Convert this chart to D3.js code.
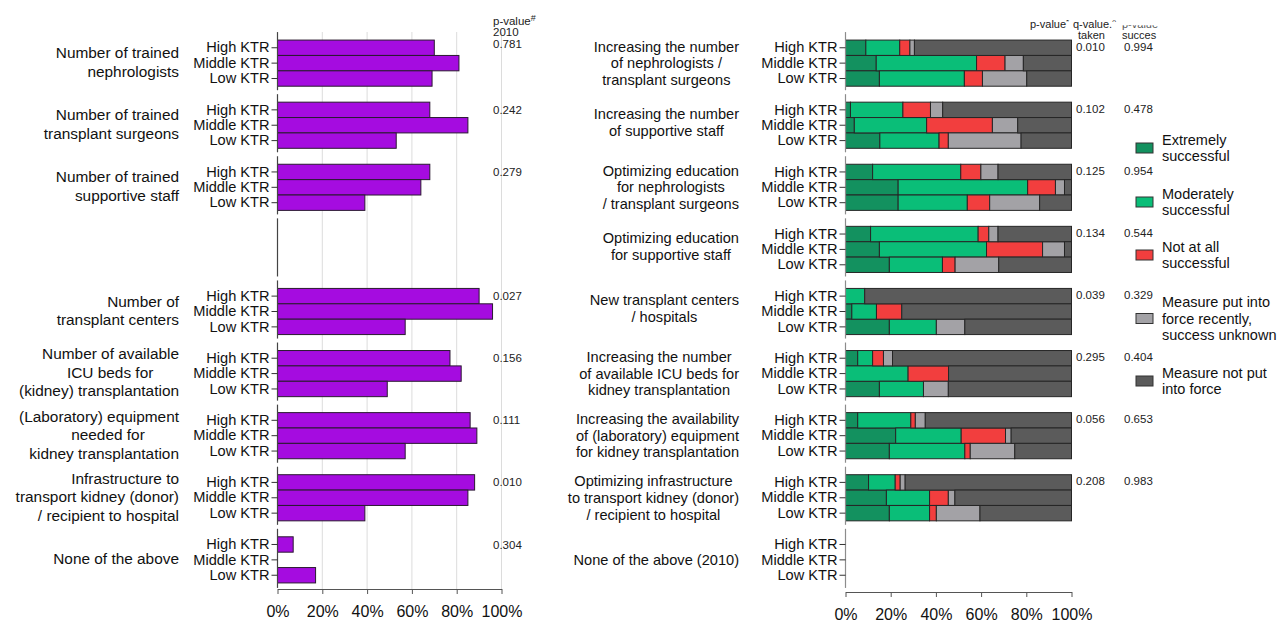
<!DOCTYPE html>
<html>
<head>
<meta charset="utf-8">
<script src="https://cdn.jsdelivr.net/npm/d3@7"></script>
<style>
  body { margin: 0; background: #fff; }
  svg { display: block; font-family: "Liberation Sans", Arial, sans-serif; }
</style>
</head>
<body>
<svg id="chart" width="1278" height="622"></svg>
<script>
// ---- data ----------------------------------------------------------
const ktrLevels = ["High KTR", "Middle KTR", "Low KTR"];
const xTicks = [0, 20, 40, 60, 80, 100];

// Left panel: resources considered lacking (% of respondents), one empty slot
const resourceLines = [
  ["Number of trained", "nephrologists"],
  ["Number of trained", "transplant surgeons"],
  ["Number of trained", "supportive staff"],
  [],
  ["Number of", "transplant centers"],
  ["Number of available", "ICU beds for\u00A0\u00A0\u00A0\u00A0\u00A0\u00A0", "(kidney) transplantation"],
  ["(Laboratory) equipment", "needed for\u00A0\u00A0\u00A0\u00A0\u00A0\u00A0\u00A0\u00A0", "kidney transplantation"],
  ["Infrastructure to", "transport kidney (donor)", "/ recipient to hospital"],
  ["None of the above"]
];
const resourcePct = [
  [70, 81, 69],
  [68, 85, 53],
  [68, 64, 39],
  null,
  [90, 96, 57],
  [77, 82, 49],
  [86, 89, 57],
  [88, 85, 39],
  [7, 0, 17]
];
const resourceP = ["0.781", "0.242", "0.279", "", "0.027", "0.156", "0.111", "0.010", "0.304"];

// Right panel: measures taken and their success (% per KTR level)
const measureLines = [
  ["Increasing the number", "of nephrologists /", "transplant surgeons"],
  ["Increasing the number", "of supportive staff"],
  ["Optimizing education", "for nephrologists", "/ transplant surgeons"],
  ["Optimizing education", "for supportive staff"],
  ["New transplant centers", "/ hospitals"],
  ["Increasing the number", "of available ICU beds for", "kidney transplantation"],
  ["Increasing the availability", "of (laboratory) equipment", "for kidney transplantation"],
  ["Optimizing infrastructure", "to transport kidney (donor)", "/ recipient to hospital"],
  ["None of the above (2010)"]
];
const statusNames = [
  ["Extremely", "successful"],
  ["Moderately", "successful"],
  ["Not at all", "successful"],
  ["Measure put into", "force recently,", "success unknown"],
  ["Measure not put", "into force"]
];
const statusColors = ["#13915f", "#0abe78", "#f23e3e", "#a3a2a6", "#5b5b5b"];

const extremely = [[9, 13.6, 15], [2.2, 3.9, 15.2], [12, 23.3, 23.3], [11.1, 15, 19.4], [0, 2.8, 19.4], [5.4, 0, 15], [5.4, 22.2, 19.4], [10.2, 18.1, 19.4], [0, 0, 0]];
const moderately = [[15, 44.4, 37.6], [23.2, 32, 26.2], [39, 57.3, 30.6], [47.6, 47.4, 23.5], [8.5, 10.9, 20.8], [6.6, 27.7, 19.5], [23.5, 29, 33.4], [11.8, 19.1, 17.8], [0, 0, 0]];
const notAtAll = [[4.5, 12.6, 8], [12.2, 29.1, 4.1], [8.9, 12.3, 9.9], [4.7, 24.8, 5.6], [0, 11.2, 0], [4.8, 17.9, 0], [2, 19.6, 2.4], [2.2, 8.3, 3], [0, 0, 0]];
const recently = [[2, 8.1, 19.6], [5.4, 11.2, 32.2], [7.6, 4, 22.1], [4.1, 9.7, 19.3], [0, 0, 12.6], [4, 0, 11], [4.4, 2.5, 19.7], [2.2, 2.9, 19.3], [0, 0, 0]];
const notInForce = [[69.5, 21.3, 19.8], [57, 23.8, 22.3], [32.5, 3.1, 14.1], [32.5, 3.1, 32.2], [91.5, 75.1, 47.2], [79.2, 54.4, 54.5], [64.7, 26.7, 25.1], [73.6, 51.6, 40.5], [0, 0, 0]];

const pTaken = ["0.010", "0.102", "0.125", "0.134", "0.039", "0.295", "0.056", "0.208", ""];
const pSuccess = ["0.994", "0.478", "0.954", "0.544", "0.329", "0.404", "0.653", "0.983", ""];

// ---- layout --------------------------------------------------------
const svg = d3.select("#chart");
const slotY = d3.scaleBand().domain(d3.range(9)).range([32, 591]).paddingInner(0.257).paddingOuter(0.13);
const rowY = d3.scaleBand().domain(ktrLevels).range([0, slotY.bandwidth()]);
const xL = d3.scaleLinear().domain([0, 100]).range([277.5, 501.5]);
const xR = d3.scaleLinear().domain([0, 100]).range([845.5, 1071.5]);

const tickFont = "14.6px";

function slotAxisSegments(g, x, color) {
  g.selectAll("line.seg").data(d3.range(9)).join("line")
    .attr("class", "seg")
    .attr("x1", x).attr("x2", x)
    .attr("y1", d => slotY(d) - 8)
    .attr("y2", d => slotY(d) + slotY.bandwidth() + (d === 8 ? 5 : 4))
    .attr("stroke", color).attr("stroke-width", 1.2);
}

function ktrAxis(parent, x, slots) {
  slots.forEach(s => {
    const ax = parent.append("g")
      .attr("transform", `translate(${x},${slotY(s)})`)
      .call(d3.axisLeft(rowY).tickSize(6).tickPadding(2));
    ax.select(".domain").remove();
    ax.selectAll(".tick line").attr("stroke", "#333");
    ax.selectAll(".tick text").attr("fill", "#111").style("font-size", tickFont)
      .style("font-family", "'Liberation Sans', Arial, sans-serif");
  });
}

function bottomAxis(parent, x, y) {
  const ax = parent.append("g")
    .attr("transform", `translate(0,${y})`)
    .call(d3.axisBottom(x).tickValues(xTicks).tickFormat(d => d + "%").tickSize(5).tickSizeOuter(0).tickPadding(12));
  ax.select(".domain").attr("stroke", "#555");
  ax.selectAll(".tick line").attr("stroke", "#555");
  ax.selectAll(".tick text").attr("fill", "#111").style("font-size", "16px")
    .style("font-family", "'Liberation Sans', Arial, sans-serif");
}

// ---- left panel ----------------------------------------------------
const left = svg.append("g");

left.selectAll("line.grid").data(xTicks.filter(d => d > 0)).join("line")
  .attr("class", "grid")
  .attr("x1", d => xL(d)).attr("x2", d => xL(d))
  .attr("y1", 32).attr("y2", 589)
  .attr("stroke", "#dcdcdc").attr("stroke-width", 1);

const leftRows = [];
resourcePct.forEach((vals, g) => {
  if (!vals) return;
  vals.forEach((v, i) => leftRows.push({ g, level: ktrLevels[i], v }));
});

left.selectAll("rect.bar").data(leftRows.filter(d => d.v > 0)).join("rect")
  .attr("class", "bar")
  .attr("x", xL(0))
  .attr("y", d => slotY(d.g) + rowY(d.level))
  .attr("width", d => xL(d.v) - xL(0))
  .attr("height", rowY.bandwidth())
  .attr("fill", "#a50ce0")
  .attr("stroke", "#2a1a30").attr("stroke-width", 1);

slotAxisSegments(left, xL(0), "#444");
ktrAxis(left, xL(0), d3.range(9).filter(s => resourcePct[s]));
bottomAxis(left, xL, 589);

// group labels, right aligned
resourceLines.forEach((lines, g) => {
  const cy = slotY(g) + slotY.bandwidth() / 2;
  const lh = 18.5;
  lines.forEach((t, k) => {
    left.append("text")
      .attr("x", 179)
      .attr("y", cy + (k - (lines.length - 1) / 2) * lh - 1)
      .attr("dy", "0.35em")
      .attr("text-anchor", "end")
      .style("font-size", "15.4px")
      .attr("fill", "#111")
      .text(t);
  });
});

// p-values (2010)
const pLeftX = 493;
resourceP.forEach((p, g) => {
  if (!p) return;
  const y = slotY(g) + rowY("High KTR") + rowY.bandwidth() / 2 - (g === 0 ? 4 : 0);
  left.append("text").attr("x", pLeftX).attr("y", y).attr("dy", "0.35em")
    .style("font-size", "11.5px").attr("fill", "#222").text(p);
  if (g === 0) {
    const h = left.append("text").attr("x", pLeftX).attr("y", y - 22.6).attr("dy", "0.35em")
      .style("font-size", "11.5px").attr("fill", "#222");
    h.append("tspan").text("p-value");
    h.append("tspan").attr("dy", "-0.5em").style("font-size", "9px").text("#");
    left.append("text").attr("x", pLeftX).attr("y", y - 11.3).attr("dy", "0.35em")
      .style("font-size", "11.5px").attr("fill", "#222").text("2010");
  }
});

// ---- right panel ---------------------------------------------------
const right = svg.append("g");
const keys = ["ext", "mod", "not", "rec", "nf"];
const rightRows = [];
measureLines.forEach((_, g) => {
  ktrLevels.forEach((level, i) => {
    rightRows.push({
      g, level,
      ext: extremely[g][i], mod: moderately[g][i], not: notAtAll[g][i],
      rec: recently[g][i], nf: notInForce[g][i]
    });
  });
});
const stacked = d3.stack().keys(keys)(rightRows);

right.selectAll("g.series").data(stacked).join("g")
  .attr("class", "series")
  .attr("fill", (d, i) => statusColors[i])
  .selectAll("rect").data(d => d.filter(s => s[1] - s[0] > 0)).join("rect")
  .attr("x", s => xR(s[0]))
  .attr("y", s => slotY(s.data.g) + rowY(s.data.level))
  .attr("width", s => xR(s[1]) - xR(s[0]))
  .attr("height", rowY.bandwidth())
  .attr("stroke", "#262626").attr("stroke-width", 1);

slotAxisSegments(right, xR(0), "#8c8c8c");
ktrAxis(right, xR(0), d3.range(9));
bottomAxis(right, xR, 592);

// group labels: lines centred within a right-aligned block
measureLines.forEach((lines, g) => {
  const cy = slotY(g) + slotY.bandwidth() / 2;
  const lh = 16.7;
  const block = right.append("g");
  const texts = lines.map((t, k) => block.append("text")
    .attr("y", cy + (k - (lines.length - 1) / 2) * lh - (lines.length === 2 ? 3 : 0))
    .attr("dy", "0.35em")
    .attr("text-anchor", "middle")
    .style("font-size", "14.6px")
    .attr("fill", "#111")
    .text(t));
  const w = d3.max(texts, t => t.node().getComputedTextLength());
  texts.forEach(t => t.attr("x", 739 - w / 2));
});

// p-value columns
const pTakenX = 1076, pSuccessX = 1124;
pTaken.forEach((p, g) => {
  if (!p) return;
  const y = slotY(g) + rowY("High KTR") + rowY.bandwidth() / 2 - 1;
  right.append("text").attr("x", pTakenX).attr("y", y).attr("dy", "0.35em")
    .style("font-size", "11.5px").attr("fill", "#222").text(p);
  right.append("text").attr("x", pSuccessX).attr("y", y).attr("dy", "0.35em")
    .style("font-size", "11.5px").attr("fill", "#222").text(pSuccess[g]);
});

// column headers, cut at the top edge of the figure
const defs = svg.append("defs");
defs.append("clipPath").attr("id", "hdrClip").append("rect").attr("x", 0).attr("y", 20).attr("width", 1278).attr("height", 40);
defs.append("clipPath").attr("id", "hdrClip2").append("rect").attr("x", 0).attr("y", 25.3).attr("width", 1278).attr("height", 40);
const hdr = right.append("g").attr("clip-path", "url(#hdrClip)");
const h1 = hdr.append("text").attr("x", 1030).attr("y", 28).style("font-size", "11px").attr("fill", "#222");
h1.append("tspan").text("p-value");
h1.append("tspan").attr("dy", "-0.45em").style("font-size", "8px").text("*");
const h2 = hdr.append("text").attr("x", 1073).attr("y", 28).style("font-size", "11px").attr("fill", "#222");
h2.append("tspan").text("q-value.");
h2.append("tspan").attr("dy", "-0.45em").style("font-size", "8px").text("^");
hdr.append("text").attr("x", 1078).attr("y", 39).style("font-size", "11px").attr("fill", "#222").text("taken");
hdr.append("text").attr("x", 1122).attr("y", 39).style("font-size", "11px").attr("fill", "#222").text("succes");
right.append("g").attr("clip-path", "url(#hdrClip2)")
  .append("text").attr("x", 1122).attr("y", 27.5).style("font-size", "11px").attr("fill", "#555").text("p-value^");

// ---- legend --------------------------------------------------------
const legendY = [148, 202, 255, 318.5, 381];
const legend = svg.append("g");
statusNames.forEach((lines, i) => {
  const cy = legendY[i];
  legend.append("rect")
    .attr("x", 1136).attr("y", cy - 5).attr("width", 17).attr("height", 10)
    .attr("fill", statusColors[i]).attr("stroke", "#333").attr("stroke-width", 1);
  lines.forEach((t, k) => {
    legend.append("text")
      .attr("x", 1162)
      .attr("y", cy + (k - (lines.length - 1) / 2) * 16.5)
      .attr("dy", "0.35em")
      .style("font-size", "14.5px")
      .attr("fill", "#111")
      .text(t);
  });
});
</script>
</body>
</html>
